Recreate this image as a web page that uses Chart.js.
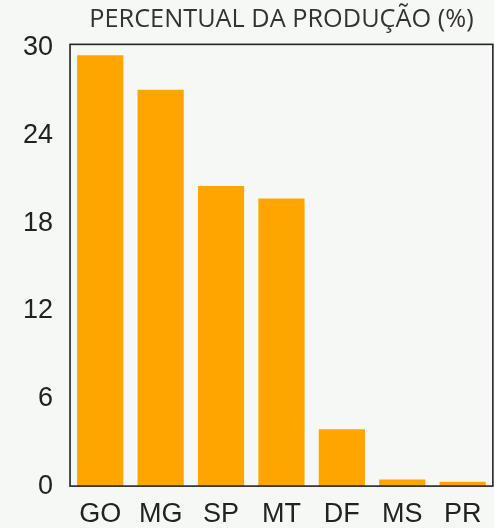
<!DOCTYPE html>
<html>
<head>
<meta charset="utf-8">
<script src="https://cdn.jsdelivr.net/npm/chart.js"></script>
<style>
  html, body { margin: 0; padding: 0; background: #f6f8f5; }
  #wrap { width: 494px; height: 528px; }
</style>
</head>
<body>
<div id="wrap"><canvas id="prodChart" width="494" height="528"></canvas></div>
<script>
// percentual da produção por estado
const estados = ['GO', 'MG', 'SP', 'MT', 'DF', 'MS', 'PR'];
const percentual = [29.5, 27.15, 20.55, 19.7, 3.9, 0.46, 0.3];
const yTicks = [0, 6, 12, 18, 24, 30];

// moldura em volta da área do gráfico
const boxPlugin = {
    id: 'plotBox',
    beforeDraw(chart) {
        const ctx = chart.ctx;
        ctx.save();
        ctx.fillStyle = '#f6f8f5';
        ctx.fillRect(0, 0, chart.width, chart.height);
        ctx.restore();
    },
    afterDatasetsDraw(chart) {
        const a = chart.chartArea;
        const ctx = chart.ctx;
        ctx.save();
        ctx.strokeStyle = '#222';
        ctx.lineWidth = 1.6;
        ctx.strokeRect(a.left, a.top, a.right - a.left, a.bottom - a.top);
        ctx.restore();
    }
};

new Chart(document.getElementById('prodChart'), {
    type: 'bar',
    data: {
        labels: estados,
        datasets: [{
            data: percentual,
            backgroundColor: '#ffa500',
            borderWidth: 0,
            barPercentage: 0.765,
            categoryPercentage: 1
        }]
    },
    options: {
        responsive: false,
        animation: false,
        layout: { padding: { left: 6, right: -4, top: 0, bottom: -15.5 } },
        plugins: {
            legend: { display: false },
            tooltip: { enabled: false },
            title: {
                display: true,
                text: 'PERCENTUAL DA PRODUÇÃO (%)',
                fullSize: false,
                color: '#333',
                font: { family: '"Open Sans"', size: 25.3, weight: 'normal' },
                padding: { top: 5, bottom: 9 }
            }
        },
        scales: {
            x: {
                grid: { display: false, drawTicks: false },
                border: { display: false },
                ticks: {
                    color: '#222',
                    padding: 12.5,
                    font: { family: '"Liberation Sans", Arial', size: 27 }
                }
            },
            y: {
                min: 0,
                max: 30.25,
                grid: { display: false, drawTicks: false },
                border: { display: false },
                afterBuildTicks(scale) {
                    scale.ticks = yTicks.map(v => ({ value: v }));
                },
                ticks: {
                    color: '#222',
                    padding: 17,
                    font: { family: '"Liberation Sans", Arial', size: 27 }
                }
            }
        }
    },
    plugins: [boxPlugin]
});
</script>
</body>
</html>
